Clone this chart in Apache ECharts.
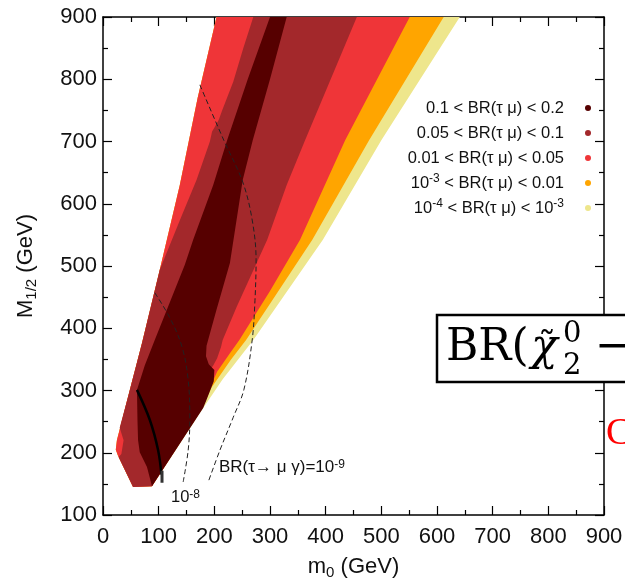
<!DOCTYPE html>
<html><head><meta charset="utf-8">
<script src="https://cdn.jsdelivr.net/npm/echarts@6/dist/echarts.min.js"></script>
<style>html,body{margin:0;padding:0;background:#fff}#c{width:625px;height:581px}</style>
</head><body><div id="c"></div>
<script>
// ---- axis ranges ----
const xRange = [0, 900];
const yRange = [100, 900];
const tickStep = 100;

// ---- BR(tau mu) regions: boundary vertices [m0, M1/2] in GeV ----
const region1e4 = [[204,900],[170,770],[138,630],[102,494],[70,376],[45,290],[25,220],[23,205],[27,195],[54,145],[88,146],[180,272],[215,318],[270,381],[395,542],[500,702],[641,900]];
const region1e3 = [[204,900],[170,770],[138,630],[102,494],[70,376],[45,290],[25,220],[23,205],[27,195],[54,145],[88,146],[176,268],[195,305],[230,350],[257,381],[376,542],[478,702],[612,900]];
const region001 = [[204,900],[170,770],[138,630],[102,494],[70,376],[45,290],[25,220],[23,205],[27,195],[54,145],[88,146],[174,266],[190,300],[205,330],[228,360],[245,381],[300,460],[354,542],[435,702],[551,900]];
const region005 = [[270,900],[252,850],[234,796],[214,750],[208,735],[200,722],[196,716],[192,700],[168,638],[141,580],[102,494],[70,376],[45,290],[30,240],[37,220],[33,198],[28,193],[54,145],[88,146],[190,330],[198,340],[205,352],[212,370],[215,381],[240,434],[295,542],[330,630],[363,702],[456,900]];
const region01 = [[300,900],[330,900],[300,800],[269,702],[251,638],[228,505],[204,430],[186,372],[185,355],[190,342],[200,333],[199,315],[186,285],[180,272],[88,146],[79,177],[66,201],[63,220],[62,250],[61,301],[75,340],[93,381],[147,502],[162,542],[198,630],[223,702],[260,800]];

// ---- contour lines ----
const contour1e9 = [[174,791],[217,702],[251,635],[268,574],[275,510],[273,445],[268,381],[253,301],[234,257],[210,204],[189,153]];
const contour1e8 = [[93,457],[120,417],[142,370],[153,317],[156,253],[153,204],[144,153]];
const solidCurve = [[61,301],[84,253],[99,204],[105,165]];
const solidTick = [[106,152],[106,171]];

// ---- legend ----
const seriesNames = ['r01','r005','r001','r1e3','r1e4'];
const legendLabels = ['0.1 < BR(τ μ) < 0.2','0.05 < BR(τ μ) < 0.1','0.01 < BR(τ μ) < 0.05','10{s|-3} < BR(τ μ) < 0.01','10{s|-4} < BR(τ μ) < 10{s|-3}'];
const colors = ['#560000','#a3282b','#ef3538','#ffa500','#eee68c'];
const regions = [region01, region005, region001, region1e3, region1e4];

const chart = echarts.init(document.getElementById('c'), null, {renderer:'canvas'});
const F = 'Liberation Sans, Arial, sans-serif';
const S = '"DejaVu Serif", "Liberation Serif", serif';

function polySeries(i) {
  const pts = regions[i];
  return {
    type: 'custom', name: seriesNames[i], coordinateSystem: 'cartesian2d', clip: true, silent: true,
    itemStyle: {color: colors[i]},
    data: [pts[0]],
    renderItem: function (params, api) {
      return {type: 'polygon', shape: {points: pts.map(p => api.coord(p))}, style: {fill: colors[i]}};
    }
  };
}
function lineSeries(data, style) {
  return {type:'line', data: data, smooth: 0.35, showSymbol: false, silent: true, lineStyle: style, z: 5, clip: true};
}

const axisCommon = {
  type: 'value', axisLine: {show: true, onZero: false, lineStyle: {color: '#000', width: 1.5}},
  axisTick: {show: true, inside: true, length: 9, lineStyle: {color: '#000', width: 1.2}},
  minorTick: {show: true, splitNumber: 2, length: 5, lineStyle: {color: '#000', width: 1.2}},
  splitLine: {show: false}, minorSplitLine: {show: false}
};

const series = [4,3,2,1,0].map(polySeries);
series.push(lineSeries(contour1e9, {color:'#222', width:1, type:[5,3]}));
series.push(lineSeries(contour1e8, {color:'#222', width:1, type:[5,3]}));
series.push(lineSeries(solidCurve, {color:'#000', width:2.5}));
series.push({type:'line', data: solidTick, showSymbol:false, silent:true, lineStyle:{color:'#333', width:3}, z:5});

const supRich = {s: {fontSize: 12, fontFamily: F, verticalAlign: 'top', lineHeight: 11, color: '#111'}};
const nameRich = {a: {fontSize: 22, fontFamily: F, color: '#111', lineHeight: 26, verticalAlign:'middle'},
                  b: {fontSize: 15, fontFamily: F, color: '#111', lineHeight: 14, verticalAlign: 'bottom'}};

chart.setOption({
  animation: false,
  grid: {left: 103, right: 21, top: 17, bottom: 66, outerBoundsMode: 'none', containLabel: false},
  xAxis: [
    Object.assign({}, axisCommon, {min: xRange[0], max: xRange[1], interval: tickStep, position: 'bottom',
      axisLabel: {fontSize: 22, color: '#111', fontFamily: F, margin: 11},
      name: '{a|m}{b|0}{a| (GeV)}', nameLocation: 'middle', nameGap: 39, nameTextStyle: {rich: nameRich}}),
    Object.assign({}, axisCommon, {min: xRange[0], max: xRange[1], interval: tickStep, position: 'top', axisLabel: {show: false}})
  ],
  yAxis: [
    Object.assign({}, axisCommon, {min: yRange[0], max: yRange[1], interval: tickStep, position: 'left',
      axisLabel: {fontSize: 22, color: '#111', fontFamily: F, margin: 6},
      name: '{a|M}{b|1/2}{a| (GeV)}', nameLocation: 'middle', nameGap: 64, nameRotate: 90, nameTextStyle: {rich: nameRich}}),
    Object.assign({}, axisCommon, {min: yRange[0], max: yRange[1], interval: tickStep, position: 'right', axisLabel: {show: false}})
  ],
  legend: {
    data: seriesNames, orient: 'vertical', right: 29, top: 93, align: 'right', icon: 'circle',
    itemWidth: 6, itemHeight: 6, itemGap: 5, selectedMode: false,
    formatter: function (n) { return legendLabels[seriesNames.indexOf(n)]; },
    textStyle: {fontFamily: F, fontSize: 16.5, color: '#111', lineHeight: 20, padding: [0, 16, 0, 0], rich: supRich}
  },
  graphic: [
    {type: 'text', x: 219, y: 467, z: 50, style: {text: 'BR(τ→ μ γ)=10{s|-9}', font: '17px ' + F, fill: '#111', verticalAlign: 'middle', rich: supRich}},
    {type: 'text', x: 171, y: 497, z: 50, style: {text: '10{s|-8}', font: '16.5px ' + F, fill: '#111', verticalAlign: 'middle', rich: supRich}},
    {type: 'rect', z: 100, shape: {x: 437, y: 315, width: 230, height: 67}, style: {fill: '#fff', stroke: '#000', lineWidth: 2.5}},
    {type: 'text', z: 101, x: 446, y: 349, style: {text: 'BR(', font: '44px ' + S, fill: '#000', verticalAlign: 'middle'}},
    {type: 'text', z: 101, x: 531, y: 349, style: {text: 'χ', font: 'italic 44px ' + S, fill: '#000', verticalAlign: 'middle'}},
    {type: 'text', z: 101, x: 538, y: 348, style: {text: '˜', font: '36px ' + S, fill: '#000', verticalAlign: 'middle'}},
    {type: 'text', z: 101, x: 563, y: 334, style: {text: '0', font: '29px ' + S, fill: '#000', verticalAlign: 'middle'}},
    {type: 'text', z: 101, x: 563, y: 366, style: {text: '2', font: '29px ' + S, fill: '#000', verticalAlign: 'middle'}},
    {type: 'text', z: 101, x: 595, y: 349, scaleX: 1.8, style: {text: '→', font: '44px ' + S, fill: '#000', verticalAlign: 'middle'}},
    {type: 'text', z: 101, x: 606, y: 434, style: {text: 'C', font: '38px "Liberation Serif", serif', fill: '#ff0000', verticalAlign: 'middle'}}
  ],
  series: series
});
</script>
</body></html>
